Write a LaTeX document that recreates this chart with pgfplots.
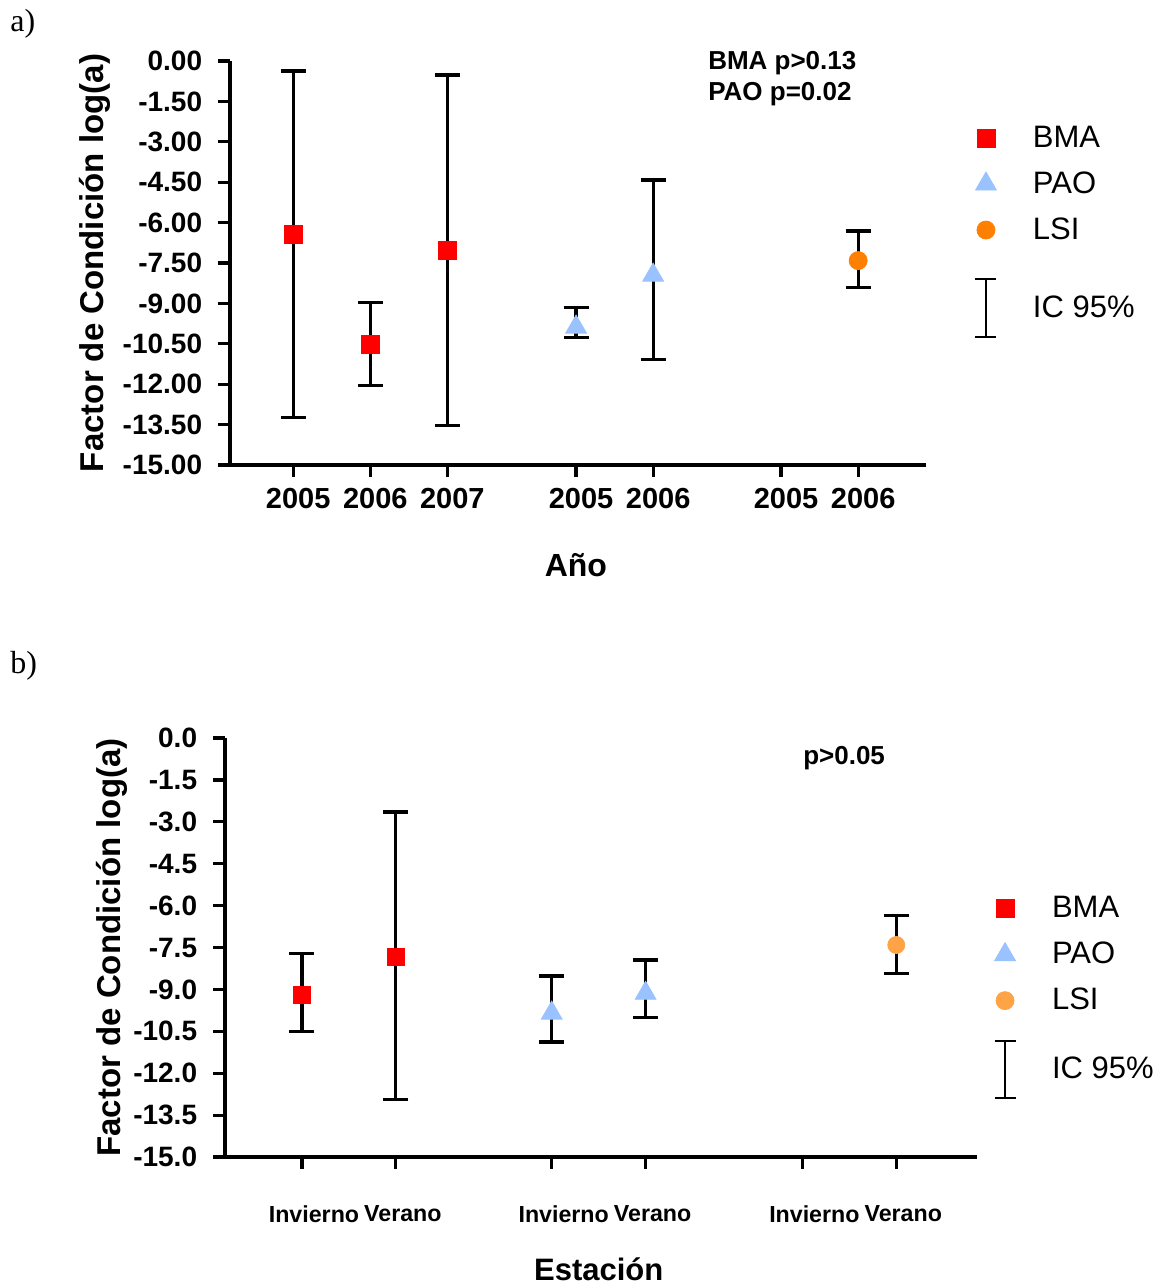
\documentclass[border=0pt]{standalone}
\usepackage{fontspec}
\setmainfont{Liberation Sans}
\newfontfamily\timesfont{Liberation Serif}
\usepackage{pgfplots}
\pgfplotsset{compat=1.18}
\usepackage{pgfplotstable}
\definecolor{bmared}{RGB}{255,0,0}
\definecolor{paoblue}{RGB}{153,194,255}
\definecolor{lsiorangeA}{RGB}{255,128,0}
\definecolor{lsiorangeB}{RGB}{255,163,71}

\pgfplotstableread{
x y ep em
0 -6.44 6.07 6.79
1 -10.52 1.55 1.52
2 -7.04 6.52 6.50
}\bmaA
\pgfplotstableread{
x y ep em
3.67 -9.88 0.73 0.38
4.67 -7.95 3.53 3.12
}\paoA
\pgfplotstableread{
x y ep em
7.33 -7.41 1.10 0.99
}\lsiA
\pgfplotstableread{
x y ep em
0 -9.20 1.49 1.31
1 -7.83 5.18 5.12
}\bmaB
\pgfplotstableread{
x y ep em
2.66 -9.85 1.33 1.03
3.66 -9.14 1.19 0.87
}\paoB
\pgfplotstableread{
x y ep em
6.33 -7.41 1.05 1.02
}\lsiB

\pgfplotsset{
  myaxis/.style={
    scale only axis, clip=false,
    axis x line=bottom, axis y line=left,
    axis line style={-, line width=1.6pt, black},
    every outer x axis line/.append style={-},
    every outer y axis line/.append style={-},
    x axis line style={shorten <=-5.5pt},
    tick align=outside, major tick length=5.75pt,
    tick style={line width=1.6pt, black},
    yticklabel style={font=\bfseries\fontsize{14}{14}\selectfont, inner sep=0pt, anchor=east, xshift=-8pt},
    legend cell align=left,
    legend image code/.code={\path[draw=none, fill=none] (-8pt,-8pt) rectangle (8pt,8pt); \draw[##1] plot coordinates {(0pt,0pt)};},
    /pgf/number format/assume math mode=true,
  },
  ebar/.style={
    error bars/.cd, y dir=both, y explicit,
    error bar style={line width=1.6pt, black},
    error mark options={rotate=90, mark size=6.25pt, line width=1.6pt, black},
  },
}

\begin{document}
\begin{tikzpicture}
\useasboundingbox (0,0) rectangle (584.5pt,-643.5pt);
\node[anchor=base west, inner sep=0pt, font=\timesfont\fontsize{16}{16}\selectfont] at (5pt,-15.5pt) {a)};
\node[anchor=base west, inner sep=0pt, font=\timesfont\fontsize{16}{16}\selectfont] at (5pt,-336.5pt) {b)};

% ---------------- panel a
\begin{axis}[myaxis,
  at={(115pt,-232.5pt)}, anchor=south west,
  width=348pt, height=202pt,
  xmin=-0.82, xmax=8.21, ymin=-15, ymax=0,
  xtick={0,1,2,3.67,4.67,6.33,7.33},
  xticklabels={2005,2006,2007,2005,2006,2005,2006},
  xticklabel style={font=\bfseries\fontsize{14.5}{14.5}\selectfont, inner sep=0pt, anchor=north, yshift=-5.5pt, xshift=2.5pt},
  ytick={0,-1.5,-3,-4.5,-6,-7.5,-9,-10.5,-12,-13.5,-15},
  /pgf/number format/fixed, /pgf/number format/fixed zerofill, /pgf/number format/precision=2,
  xlabel={Año}, ylabel={Factor de Condición log(a)},
  every axis x label/.style={at={(axis description cs:0.497,-0.2475)}, anchor=center, font=\bfseries\fontsize{16}{16}\selectfont},
  every axis y label/.style={at={(axis description cs:-0.194,0.5)}, rotate=90, anchor=center, font=\bfseries\fontsize{16.5}{16.5}\selectfont},
  legend style={at={(1.0632,0.849)}, anchor=north west, draw=none, fill=none, inner sep=0pt, outer sep=0pt, row sep=7pt, column sep=15.5pt, font=\fontsize{15.5}{15.5}\selectfont, nodes={inner sep=0pt}},
]
\addplot[only marks, mark=square*, mark size=4.5pt, color=bmared, forget plot, ebar]
  table[x=x, y=y, y error plus=ep, y error minus=em]{\bmaA};
\addplot[only marks, mark=triangle*, mark size=6pt, color=paoblue, forget plot, ebar]
  table[x=x, y=y, y error plus=ep, y error minus=em]{\paoA};
\addplot[only marks, mark=*, mark size=4.5pt, color=lsiorangeA, forget plot, ebar]
  table[x=x, y=y, y error plus=ep, y error minus=em]{\lsiA};
\addlegendimage{only marks, mark=square*, mark size=4.5pt, color=bmared}
\addlegendentry{BMA}
\addlegendimage{only marks, mark=triangle*, mark size=6pt, color=paoblue}
\addlegendentry{PAO}
\addlegendimage{only marks, mark=*, mark size=4.5pt, color=lsiorangeA}
\addlegendentry{LSI}
\addlegendimage{legend image code/.code={\path[draw=none, fill=none] (-8pt,-14.5pt) rectangle (8pt,24pt); \draw[line width=1pt, black] (0pt,-14.5pt)--(0pt,14.5pt) (-5.25pt,-14.5pt)--(5.25pt,-14.5pt) (-5.25pt,14.5pt)--(5.25pt,14.5pt);}}
\addlegendentry{IC 95\%}
\node[anchor=base west, inner sep=0pt, font=\bfseries\fontsize{13}{13}\selectfont] at (axis cs:5.38,-0.30) {BMA p>0.13};
\node[anchor=base west, inner sep=0pt, font=\bfseries\fontsize{13}{13}\selectfont] at (axis cs:5.38,-1.45) {PAO p=0.02};
\end{axis}

% ---------------- panel b
\begin{axis}[myaxis,
  at={(112.5pt,-578.5pt)}, anchor=south west,
  width=376pt, height=209.5pt,
  xmin=-0.82, xmax=7.19, ymin=-15, ymax=0,
  xtick={0,1,2.66,3.66,5.33,6.33},
  xticklabels={\kern2pt Invierno,Verano\kern3pt,\kern2pt Invierno,Verano\kern3pt,\kern2pt Invierno,Verano\kern3pt},
  xticklabel style={font=\bfseries\fontsize{11.6}{11.6}\selectfont, inner sep=0pt, anchor=north, yshift=-18.5pt, xshift=5pt},
  ytick={0,-1.5,-3,-4.5,-6,-7.5,-9,-10.5,-12,-13.5,-15},
  /pgf/number format/fixed, /pgf/number format/fixed zerofill, /pgf/number format/precision=1,
  xlabel={Estación}, ylabel={Factor de Condición log(a)},
  every axis x label/.style={at={(axis description cs:0.497,-0.267)}, anchor=center, font=\bfseries\fontsize{15.5}{15.5}\selectfont},
  every axis y label/.style={at={(axis description cs:-0.150,0.5)}, rotate=90, anchor=center, font=\bfseries\fontsize{16.5}{16.5}\selectfont},
  legend style={at={(1.016,0.631)}, anchor=north west, draw=none, fill=none, inner sep=0pt, outer sep=0pt, row sep=7pt, column sep=15.5pt, font=\fontsize{15.5}{15.5}\selectfont, nodes={inner sep=0pt}},
]
\addplot[only marks, mark=square*, mark size=4.25pt, color=bmared, forget plot, ebar]
  table[x=x, y=y, y error plus=ep, y error minus=em]{\bmaB};
\addplot[only marks, mark=triangle*, mark size=6pt, color=paoblue, forget plot, ebar]
  table[x=x, y=y, y error plus=ep, y error minus=em]{\paoB};
\addplot[only marks, mark=*, mark size=4.25pt, color=lsiorangeB, forget plot, ebar]
  table[x=x, y=y, y error plus=ep, y error minus=em]{\lsiB};
\addlegendimage{only marks, mark=square*, mark size=4.5pt, color=bmared}
\addlegendentry{BMA}
\addlegendimage{only marks, mark=triangle*, mark size=6pt, color=paoblue}
\addlegendentry{PAO}
\addlegendimage{only marks, mark=*, mark size=4.5pt, color=lsiorangeB}
\addlegendentry{LSI}
\addlegendimage{legend image code/.code={\path[draw=none, fill=none] (-8pt,-14.25pt) rectangle (8pt,19.5pt); \draw[line width=1pt, black] (0pt,-14.25pt)--(0pt,14.25pt) (-5.25pt,-14.25pt)--(5.25pt,-14.25pt) (-5.25pt,14.25pt)--(5.25pt,14.25pt);}}
\addlegendentry{IC 95\%}
\node[anchor=base west, inner sep=0pt, font=\bfseries\fontsize{13}{13}\selectfont] at (axis cs:5.335,-0.96) {p>0.05};
\end{axis}
\end{tikzpicture}
\end{document}
